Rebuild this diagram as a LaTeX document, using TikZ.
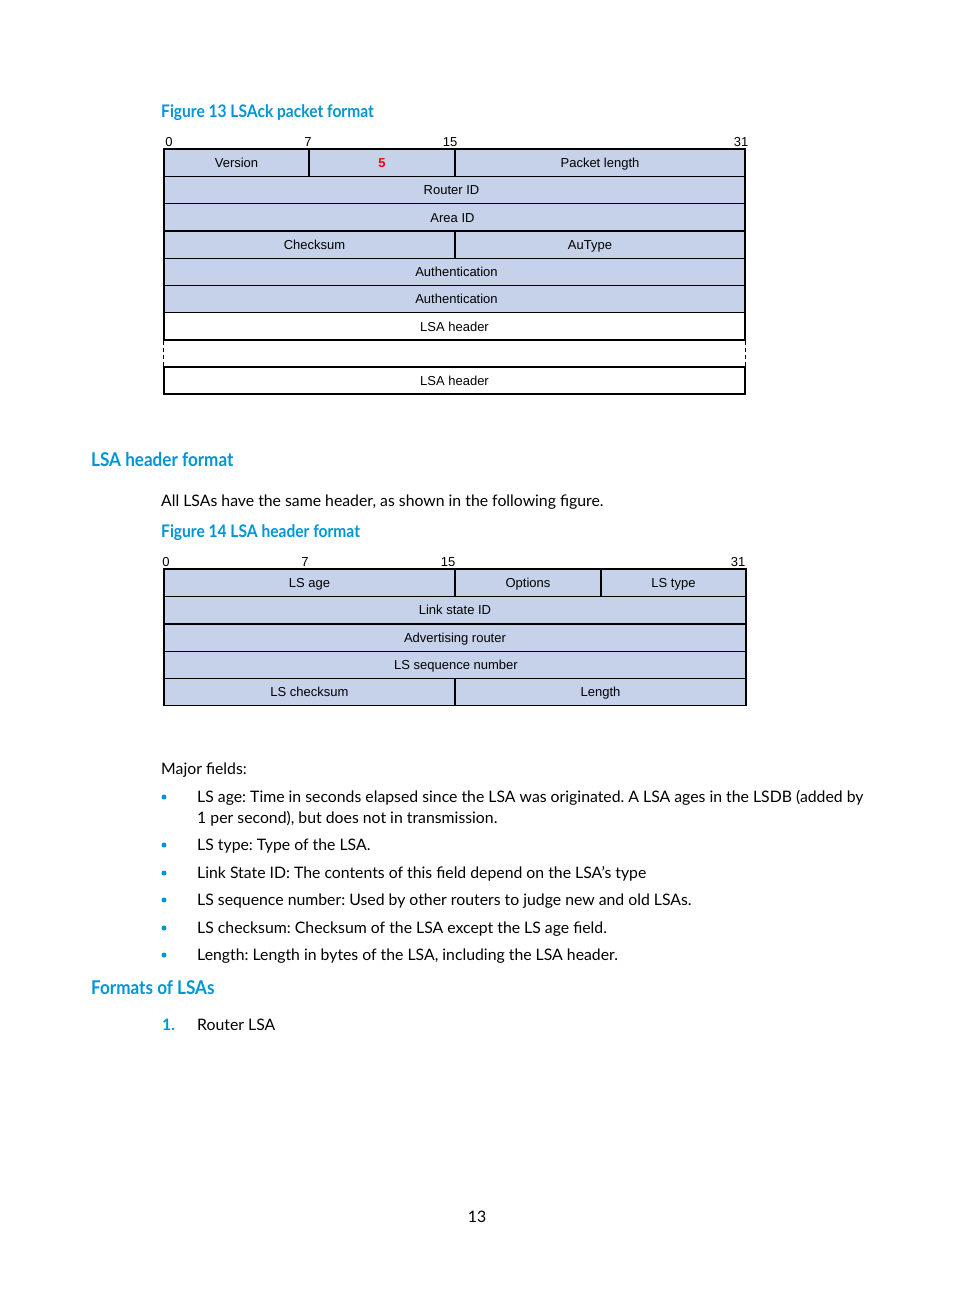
\documentclass[tikz,border=0pt]{standalone}
\usepackage{fontspec}
\setmainfont{Lato}
\newfontfamily\arialf{Liberation Sans}
\newfontfamily\headf[FakeStretch=0.9]{Lato}
\definecolor{hpblue}{RGB}{0,150,214}
\definecolor{cellfill}{RGB}{197,210,234}
\newcommand\fcell[7]{\node[cellbox, fill=#6, minimum width={(#4-#2)*1pt}, minimum height={(#5-#3)*1pt}] (#1) at ({(#2+#4)/2},{(#3+#5)/2}) {#7};}
\tikzset{
  cellbox/.style={draw=black, line width=1.3pt, inner sep=0pt, font=\arialf\fontsize{13}{15}\selectfont, text height=9.4pt, text depth=0pt},
  bitnum/.style={anchor=base, inner sep=0pt, font=\arialf\fontsize{13}{15}\selectfont},
  body/.style={anchor=base west, inner sep=0pt, font=\frenchspacing\fontsize{15.8}{18}\selectfont},
  figtitle/.style={anchor=base west, inner sep=0pt, text=hpblue, font=\headf\bfseries\fontsize{17.3}{20}\selectfont},
  sechead/.style={anchor=base west, inner sep=0pt, text=hpblue, font=\headf\bfseries\fontsize{19}{22}\selectfont},
  bulletdot/.style={circle, fill=hpblue, inner sep=0pt, minimum size=5pt},
}
\begin{document}
\frenchspacing
\begin{tikzpicture}[x=1pt,y=-1pt]
\useasboundingbox[fill=white] (0,0) rectangle (954,1294);

% Figure 13
\node[figtitle] (fig13) at (161,117) {Figure 13 LSAck packet format};
\node[bitnum] (a0) at (169,146) {0};
\node[bitnum] (a7) at (308,146) {7};
\node[bitnum] (a15) at (450,146) {15};
\node[bitnum] (a31) at (741,146) {31};

\fcell{ver}{164}{149}{309}{176.5}{cellfill}{Version}
\fcell{five}{309}{149}{455}{176.5}{cellfill}{\textcolor{red}{\bfseries 5}}
\fcell{plen}{455}{149}{745}{176.5}{cellfill}{Packet length}
\fcell{rid}{164}{176.5}{745}{203.8}{cellfill}{\hspace*{-6pt}Router ID}
\fcell{aid}{164}{203.8}{745}{231}{cellfill}{\hspace*{-4pt}Area ID}
\fcell{cks}{164}{231}{455}{258.3}{cellfill}{\hspace*{10pt}Checksum}
\fcell{aut}{455}{231}{745}{258.3}{cellfill}{AuType\hspace*{20pt}}
\fcell{auth1}{164}{258.3}{745}{285.5}{cellfill}{\hspace*{4pt}Authentication}
\fcell{auth2}{164}{285.5}{745}{312.8}{cellfill}{\hspace*{4pt}Authentication}
\fcell{lsa1}{164}{312.8}{745}{340}{white}{LSA header}
\fcell{lsa2}{164}{367}{745}{394}{white}{LSA header}
\draw[line width=1.5pt, dash pattern=on 4pt off 3pt] (lsa1.south west) -- (lsa2.north west);
\draw[line width=1pt, dash pattern=on 4pt off 3pt] (lsa1.south east) -- (lsa2.north east);

% LSA header format
\node[sechead] (h1) at (91,466) {LSA header format};
\node[body] (p1) at (161,506) {All LSAs have the same header, as shown in the following figure.};
\node[figtitle] (fig14) at (161,537) {Figure 14 LSA header format};
\node[bitnum] (b0) at (166,566) {0};
\node[bitnum] (b7) at (305,566) {7};
\node[bitnum] (b15) at (448,566) {15};
\node[bitnum] (b31) at (738,566) {31};

\fcell{lsage}{164}{569}{455}{596.5}{cellfill}{LS age}
\fcell{opt}{455}{569}{601}{596.5}{cellfill}{Options}
\fcell{lstype}{601}{569}{746}{596.5}{cellfill}{LS type}
\fcell{lsid}{164}{596.5}{746}{624}{cellfill}{Link state ID}
\fcell{adv}{164}{624}{746}{651.2}{cellfill}{Advertising router}
\fcell{seq}{164}{651.2}{746}{678.5}{cellfill}{\hspace*{2pt}LS sequence number}
\fcell{lscks}{164}{678.5}{455}{705.5}{cellfill}{LS checksum}
\fcell{len}{455}{678.5}{746}{705.5}{cellfill}{Length}

% Major fields
\node[body] (mf) at (161,774) {Major fields:};
\node[bulletdot] (d1) at (164,797) {};
\node[body] (t1) at (197,802) {LS age: Time in seconds elapsed since the LSA was originated. A LSA ages in the LSDB (added by};
\node[body] (t1b) at (197,823) {1 per second), but does not in transmission.};
\node[bulletdot] (d2) at (164,845) {};
\node[body] (t2) at (197,850) {LS type: Type of the LSA.};
\node[bulletdot] (d3) at (164,873) {};
\node[body] (t3) at (197,878) {Link State ID: The contents of this field depend on the LSA's type};
\node[bulletdot] (d4) at (164,900) {};
\node[body] (t4) at (197,905) {LS sequence number: Used by other routers to judge new and old LSAs.};
\node[bulletdot] (d5) at (164,928) {};
\node[body] (t5) at (197,933) {LS checksum: Checksum of the LSA except the LS age field.};
\node[bulletdot] (d6) at (164,955) {};
\node[body] (t6) at (197,960) {Length: Length in bytes of the LSA, including the LSA header.};

\node[sechead] (h2) at (91,994) {Formats of LSAs};
\node[body, text=hpblue, font=\bfseries\fontsize{15.8}{18}\selectfont] (n1) at (162,1030) {1.};
\node[body] (rl) at (197,1030) {Router LSA};

\node[anchor=base, inner sep=0pt, font=\fontsize{15.8}{18}\selectfont] (pg) at (477,1222) {13};
\end{tikzpicture}
\end{document}
